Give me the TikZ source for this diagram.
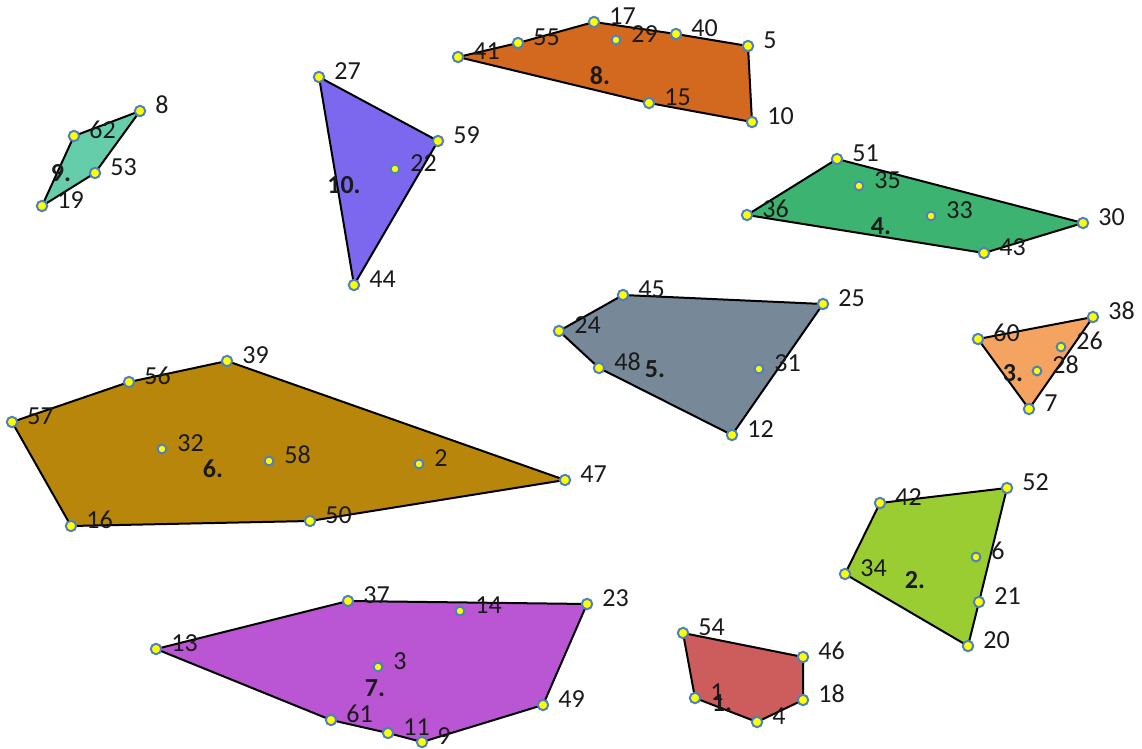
\documentclass[tikz,border=0pt]{standalone}
\usepackage{fontspec}
\setmainfont{Carlito}
\usepackage{xcolor}
\definecolor{redfill}{HTML}{CD5C5C}
\definecolor{limefill}{HTML}{9ACD32}
\definecolor{sandfill}{HTML}{F4A460}
\definecolor{seafill}{HTML}{3CB371}
\definecolor{slatefill}{HTML}{778899}
\definecolor{goldfill}{HTML}{B8860B}
\definecolor{orchidfill}{HTML}{BA55D3}
\definecolor{orangefill}{HTML}{D2691E}
\definecolor{aquafill}{HTML}{66CDAA}
\definecolor{violetfill}{HTML}{7B68EE}
\definecolor{dotfill}{HTML}{FFFF00}
\definecolor{dotline}{HTML}{4F81BD}
\definecolor{ink}{HTML}{1A1A1A}
\tikzset{
  region/.style={draw=black,line width=1pt,line join=round},
  vtxdot/.style={circle,draw=dotline,fill=dotfill,line width=1pt,
                 inner sep=0pt,minimum size=5.2pt},
  innerdot/.style={vtxdot,minimum size=4.4pt},
  numlabel/.style={anchor=west,inner sep=0pt,text=ink,
                   font=\fontsize{13}{15}\selectfont},
  regionlabel/.style={inner sep=0pt,text=ink,
                      font=\fontsize{13}{15}\selectfont\bfseries}
}
\begin{document}
\begin{tikzpicture}[x=0.5pt,y=-0.5pt]
  \useasboundingbox (0,0) rectangle (1142,749);
  % points, in pixels from the top left
  \foreach \n/\px/\py in {54/683/633, 46/803/657, 18/803/700, 4/757/722, 1/695/698,
      42/880/503, 52/1007/488, 21/979/602, 20/968/646, 34/845/574, 6/976/557,
      60/978/339, 38/1093/317, 7/1029/409, 26/1061/347, 28/1037/371,
      36/747/215, 51/837/159, 30/1083/223, 43/984/253, 35/859/186, 33/931/216,
      24/559/331, 45/623/295, 25/823/304, 12/732/435, 48/599/368, 31/759/369,
      57/12/422, 56/129/382, 39/227/361, 47/565/480, 50/310/521, 16/71/526,
      32/162/449, 58/269/461, 2/419/464,
      13/156/649, 37/348/601, 23/587/604, 49/543/705, 9/422/742, 11/388/733,
      61/331/720, 14/460/611, 3/378/667,
      41/458/57, 55/518/43, 17/594/22, 40/676/34, 5/748/46, 10/752/122,
      15/649/103, 29/616/40,
      19/42/206, 62/74/136, 8/140/111, 53/95/173,
      27/319/77, 59/438/141, 44/354/285, 22/395/169}
    \coordinate (p\n) at (\px,\py);

  \filldraw[region,fill=redfill] (p54) -- (p46) -- (p18) -- (p4) -- (p1) -- cycle;
  \filldraw[region,fill=limefill] (p34) -- (p42) -- (p52) -- (p21) -- (p20) -- cycle;
  \filldraw[region,fill=sandfill] (p60) -- (p38) -- (p7) -- cycle;
  \filldraw[region,fill=seafill] (p36) -- (p51) -- (p30) -- (p43) -- cycle;
  \filldraw[region,fill=slatefill] (p24) -- (p45) -- (p25) -- (p12) -- (p48) -- cycle;
  \filldraw[region,fill=goldfill] (p57) -- (p56) -- (p39) -- (p47) -- (p50) -- (p16) -- cycle;
  \filldraw[region,fill=orchidfill] (p13) -- (p37) -- (p23) -- (p49) -- (p9) -- (p11) -- (p61) -- cycle;
  \filldraw[region,fill=orangefill] (p41) -- (p55) -- (p17) -- (p40) -- (p5) -- (p10) -- (p15) -- cycle;
  \filldraw[region,fill=aquafill] (p19) -- (p62) -- (p8) -- (p53) -- cycle;
  \filldraw[region,fill=violetfill] (p27) -- (p59) -- (p44) -- cycle;

  \foreach \n in {54,46,18,4,1,42,52,21,20,34,60,38,7,36,51,30,43,24,45,25,12,48,
      57,56,39,47,50,16,13,37,23,49,9,11,61,41,55,17,40,5,10,15,19,62,8,53,27,59,44}
    \node[vtxdot] (d\n) at (p\n) {};
  \foreach \n in {6,26,28,35,33,31,32,58,2,14,3,29,22}
    \node[innerdot] (d\n) at (p\n) {};

  \foreach \n in {1,...,62}
    \node[numlabel] (l\n) at ([shift={(15,-6)}]p\n) {\n};

  \node[regionlabel] (r1) at (722,703) {1.};
  \node[regionlabel] (r2) at (915,580) {2.};
  \node[regionlabel] (r3) at (1013,373) {3.};
  \node[regionlabel] (r4) at (881,226) {4.};
  \node[regionlabel] (r5) at (655,369) {5.};
  \node[regionlabel] (r6) at (213,469) {6.};
  \node[regionlabel] (r7) at (375,688) {7.};
  \node[regionlabel] (r8) at (600,76) {8.};
  \node[regionlabel] (r9) at (61,173) {9.};
  \node[regionlabel] (r10) at (344,185) {10.};
\end{tikzpicture}
\end{document}
